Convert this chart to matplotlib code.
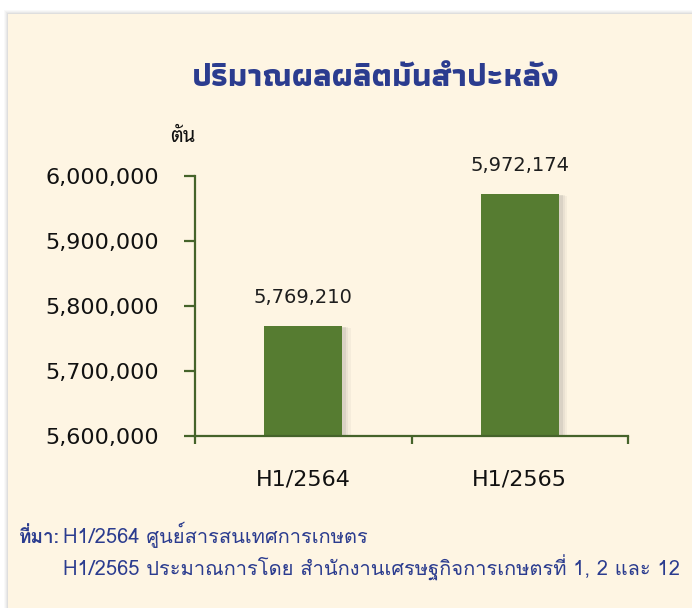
import matplotlib
matplotlib.use("Agg")
import matplotlib.pyplot as plt
from matplotlib.patches import Rectangle
import matplotlib.patheffects as pe

categories = ["H1/2564", "H1/2565"]
production = [5769210, 5972174]
y_ticks = [5600000, 5700000, 5800000, 5900000, 6000000]

title = "ปริมาณผลผลิตมันสำปะหลัง"
unit = "ตัน"
source_head = "ที่มา:"
source_lines = ["H1/2564 ศูนย์สารสนเทศการเกษตร",
                "H1/2565 ประมาณการโดย สำนักงานเศรษฐกิจการเกษตรที่ 1, 2 และ 12"]

card = "#fef5e3"
bar_col = "#567c31"
axis_col = "#45632a"
blue = "#2b3c8f"
title_font = ["Athiti", "DejaVu Sans"]
note_font = ["Loma", "DejaVu Sans"]

W, H = 692.0, 608.0
fig = plt.figure(figsize=(W / 100, H / 100), dpi=100, facecolor="white")
renderer = fig.canvas.get_renderer()


def fit_text(t, width_px):
    # shrink/grow a text so that it spans the given width in pixels
    w = t.get_window_extent(renderer).width
    t.set_fontsize(t.get_fontsize() * width_px / w)


# card background with a soft shadow on the left / top
for i, a in enumerate([0.04, 0.05, 0.07, 0.09]):
    d = 4 - i
    fig.patches.append(Rectangle(((8 - d) / W, 0), 1, (H - 14 + d) / H,
                                 transform=fig.transFigure, color="#7a7a7a",
                                 alpha=a, lw=0, zorder=-10))
fig.patches.append(Rectangle((8 / W, 0), 1, (H - 14) / H,
                             transform=fig.transFigure, color=card, lw=0,
                             zorder=-9))

ax = fig.add_axes([195 / W, 1 - 436 / H, (628 - 195) / W, (436 - 176) / H])
ax.set_facecolor("none")

x = [0.5, 1.5]
shadow = [pe.SimplePatchShadow(offset=(6, -1.5), shadow_rgbFace="#6b6b6b", alpha=0.06),
          pe.SimplePatchShadow(offset=(4.5, -1), shadow_rgbFace="#6b6b6b", alpha=0.08),
          pe.SimplePatchShadow(offset=(3, -0.5), shadow_rgbFace="#6b6b6b", alpha=0.12),
          pe.Normal()]
bars = ax.bar(x, [v - y_ticks[0] for v in production], bottom=y_ticks[0],
              width=0.36, color=bar_col, zorder=2)
for b in bars:
    b.set_path_effects(shadow)

for xi, v in zip(x, production):
    ax.annotate(f"{v:,}", (xi, v), xytext=(0, 14), textcoords="offset points",
                ha="center", va="bottom", fontsize=14, color="#1e1e1e")

ax.set_xlim(0, 2)
ax.set_ylim(y_ticks[0], y_ticks[-1])
ax.set_yticks(y_ticks)
ax.set_yticklabels([f"{t:,}" for t in y_ticks])
ax.set_xticks([0, 1, 2])
ax.set_xticklabels([])
ax.set_xticks(x, minor=True)
ax.set_xticklabels(categories, minor=True)

for s in ["top", "right"]:
    ax.spines[s].set_visible(False)
for s in ["left", "bottom"]:
    ax.spines[s].set_color(axis_col)
    ax.spines[s].set_linewidth(1.6)
    ax.spines[s].set_zorder(3)

ax.tick_params(axis="y", direction="out", length=8, width=1.6, color=axis_col,
               pad=18, labelsize=16, labelcolor="#111111")
ax.tick_params(axis="x", which="major", direction="out", length=6, width=1.6,
               color=axis_col)
ax.tick_params(axis="x", which="minor", length=0, pad=24, labelsize=16,
               labelcolor="#111111")

fig.text(376 / W, 1 - 78 / H, title, ha="center", va="center", fontsize=23.5,
         color=blue, family=title_font, weight="bold")
fig.text(183 / W, 1 - 137 / H, unit, ha="center", va="center", fontsize=14.5,
         color="#111111", family=["Noto Sans Thai Looped", "DejaVu Sans"],
         weight="bold")

lines = []
for i, line in enumerate(source_lines):
    lines.append(fig.text(63 / W, 1 - (543 + 33 * i) / H, line, ha="left",
                          va="baseline", fontsize=15, color=blue,
                          family=note_font))
fit_text(lines[1], 618)
lines[0].set_fontsize(lines[1].get_fontsize())
head = fig.text(19 / W, 1 - 543 / H, source_head, ha="left", va="baseline",
                fontsize=lines[1].get_fontsize(), color=blue,
                family=note_font, weight="bold")
if head.get_window_extent(renderer).x1 > 60:
    fit_text(head, 41)

fig.savefig("out.png", dpi=100, facecolor="white")
